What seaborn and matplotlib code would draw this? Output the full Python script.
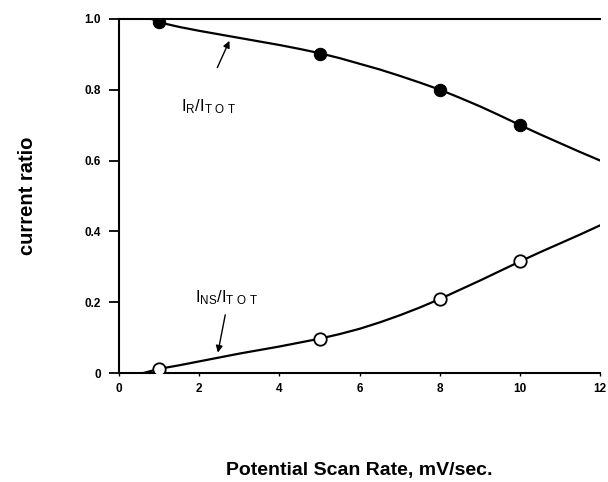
import seaborn as sns
import matplotlib.pyplot as plt
import numpy as np
import pandas as pd

# Measured points
scan_rate = [1, 5, 8, 10]
ir_ratio = [0.99, 0.90, 0.80, 0.70]
ins_ratio = [0.012, 0.097, 0.209, 0.315]

# Smooth curves as drawn on the figure
ir_curve_x = [0.8, 1, 1.5, 2, 2.5, 3, 3.5, 4, 4.5, 5, 5.5, 6, 6.5, 7, 7.5, 8, 8.5, 9, 9.5, 10, 10.5, 11, 11.5, 12]
ir_curve_y = [1.0, 0.99, 0.977, 0.966, 0.956, 0.946, 0.936, 0.926, 0.915, 0.903, 0.889, 0.873, 0.857, 0.839, 0.820,
              0.800, 0.777, 0.753, 0.727, 0.700, 0.674, 0.649, 0.624, 0.600]
ins_curve_x = [0.6, 1, 1.5, 2, 2.5, 3, 3.5, 4, 4.5, 5, 5.5, 6, 6.5, 7, 7.5, 8, 8.5, 9, 9.5, 10, 10.5, 11, 11.5, 12]
ins_curve_y = [0.0, 0.012, 0.022, 0.033, 0.044, 0.055, 0.065, 0.075, 0.086, 0.097, 0.110, 0.125, 0.143, 0.163,
               0.185, 0.209, 0.235, 0.261, 0.288, 0.315, 0.341, 0.366, 0.391, 0.417]

sns.set_style("ticks")
plt.rcParams['font.family'] = ['Liberation Sans', 'DejaVu Sans']
plt.rcParams['text.color'] = 'black'
plt.rcParams['axes.labelcolor'] = 'black'
plt.rcParams['xtick.color'] = 'black'
plt.rcParams['ytick.color'] = 'black'
plt.rcParams['axes.edgecolor'] = 'black'

fig = plt.figure(figsize=(6.08, 4.82), dpi=100)
ax = fig.add_axes([0.196, 0.226, 0.791, 0.735])

sns.lineplot(x=ir_curve_x, y=ir_curve_y, ax=ax, color='black', lw=1.6)
sns.lineplot(x=ins_curve_x, y=ins_curve_y, ax=ax, color='black', lw=1.6)
sns.scatterplot(x=scan_rate, y=ir_ratio, ax=ax, color='black', s=80, edgecolor='black', zorder=3)
sns.scatterplot(x=scan_rate, y=ins_ratio, ax=ax, color='white', s=80, edgecolor='black',
                linewidth=1.3, zorder=3)

ax.set_xlim(0, 12)
ax.set_ylim(0, 1.0)
ax.set_xticks([0, 2, 4, 6, 8, 10, 12])
ax.set_xticklabels(['0', '2', '4', '6', '8', '10', '12'], fontsize=8.5, fontweight='bold')
ax.set_yticks([0, 0.2, 0.4, 0.6, 0.8, 1.0])
ax.set_yticklabels(['0', '0.2', '0.4', '0.6', '0.8', '1.0'], fontsize=8.5, fontweight='bold')
ax.tick_params(axis='y', direction='out', length=7, width=1.3, pad=6)
ax.tick_params(axis='x', direction='out', length=2, width=1.0, pad=5)
for s in ['left', 'bottom', 'top']:
    ax.spines[s].set_linewidth(1.5)
ax.spines['right'].set_visible(False)

ax.set_ylabel('current ratio', fontsize=14.5, fontweight='bold')
ax.yaxis.set_label_coords(-0.17, 0.5)
ax.set_xlabel('Potential Scan Rate, mV/sec.', fontsize=14, fontweight='bold')
ax.xaxis.set_label_coords(0.5, -0.25)

ax.text(1.55, 0.74, r'$\mathregular{I_R/I_{T\ O\ T}}$', fontsize=12)
ax.annotate('', xy=(2.78, 0.945), xytext=(2.42, 0.855),
            arrowprops=dict(arrowstyle='-|>', color='black', lw=1.0))
ax.text(1.9, 0.2, r'$\mathregular{I_{NS}/I_{T\ O\ T}}$', fontsize=12)
ax.annotate('', xy=(2.45, 0.05), xytext=(2.66, 0.172),
            arrowprops=dict(arrowstyle='-|>', color='black', lw=1.0))

fig.savefig('out.png', dpi=100)
